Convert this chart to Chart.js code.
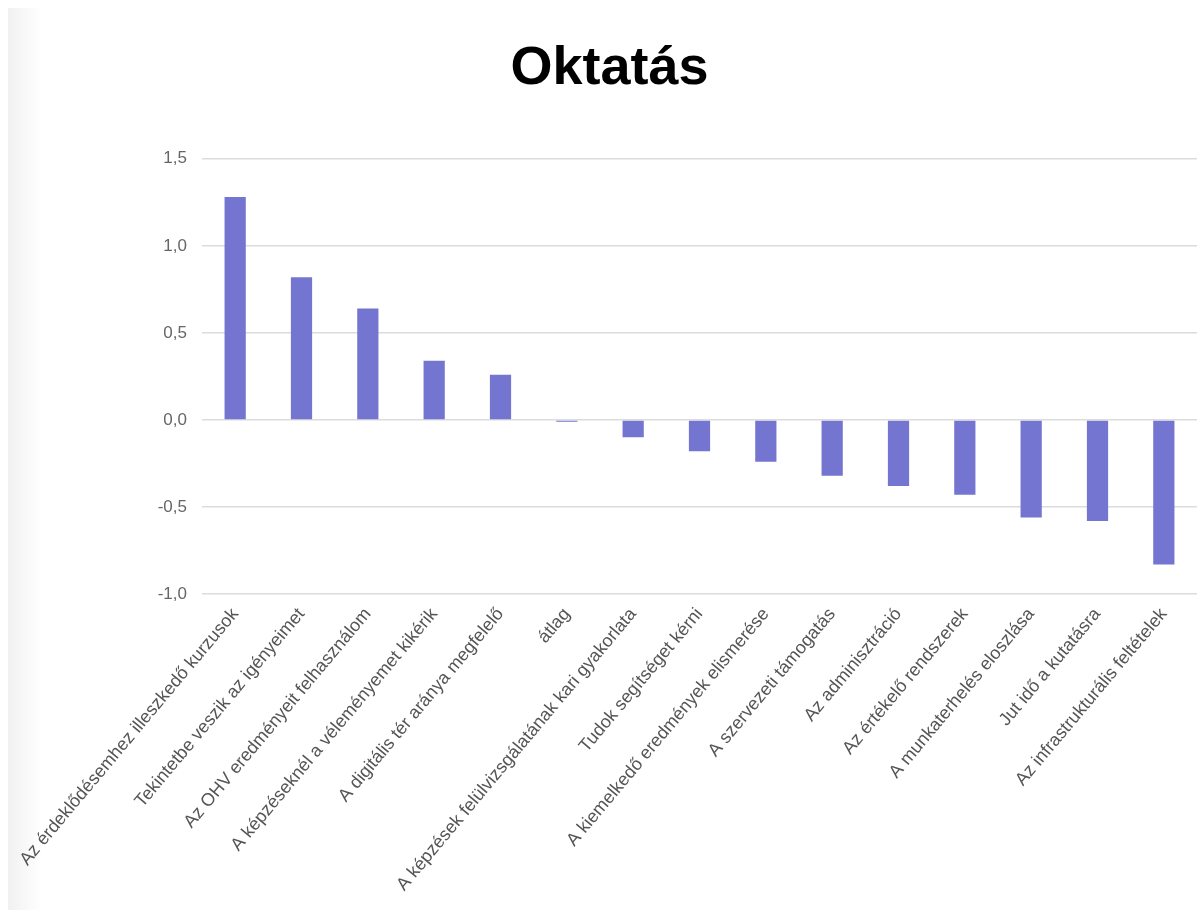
<!DOCTYPE html>
<html lang="hu">
<head>
<meta charset="utf-8">
<title>Oktatás</title>
<script src="https://cdn.jsdelivr.net/npm/chart.js@4/dist/chart.umd.min.js"></script>
<style>
    html, body { margin: 0; padding: 0; background: #fff; }
    #wrap { position: relative; width: 1203px; height: 910px; }
    #edge {
        position: absolute; left: 8px; top: 8px; width: 34px; bottom: 0;
        background: linear-gradient(to right, #f1f1f1, #fbfbfb 70%, #fff);
    }
    canvas { position: absolute; left: 0; top: 0; }
</style>
</head>
<body>
<div id="wrap">
    <div id="edge"></div>
    <canvas id="chart" width="1203" height="910"></canvas>
</div>
<script>
const labels = [
    "Az érdeklődésemhez illeszkedő kurzusok",
    "Tekintetbe veszik az igényeimet",
    "Az OHV eredményeit felhasználom",
    "A képzéseknél a véleményemet kikérik",
    "A digitális tér aránya megfelelő",
    "átlag",
    "A képzések felülvizsgálatának kari gyakorlata",
    "Tudok segítséget kérni",
    "A kiemelkedő eredmények elismerése",
    "A szervezeti támogatás",
    "Az adminisztráció",
    "Az értékelő rendszerek",
    "A munkaterhelés eloszlása",
    "Jut idő a kutatásra",
    "Az infrastrukturális feltételek"
];

const values = [1.28, 0.82, 0.64, 0.34, 0.26, -0.01, -0.10, -0.18, -0.24, -0.32, -0.38, -0.43, -0.56, -0.58, -0.83];

const yTickValues = [-1.0, -0.5, 0.0, 0.5, 1.0, 1.5];
const yTickLabels = ["-1,0", "-0,5", "0,0", "0,5", "1,0", "1,5"];

const FONT = "'Liberation Sans', Arial, sans-serif";

new Chart(document.getElementById("chart"), {
    type: "bar",
    data: {
        labels: labels,
        datasets: [{
            data: values,
            backgroundColor: "rgb(116, 117, 208)",
            borderWidth: 0,
            barPercentage: 0.32,
            categoryPercentage: 1.0
        }]
    },
    options: {
        responsive: false,
        animation: false,
        layout: { padding: { left: 22, right: 6, top: 0, bottom: 0 } },
        plugins: {
            legend: { display: false },
            tooltip: { enabled: false },
            title: {
                display: true,
                text: "Oktatás",
                color: "#000",
                font: { family: FONT, size: 54, weight: "bold", lineHeight: 1.2 },
                padding: { top: 37, bottom: 57 }
            }
        },
        scales: {
            x: {
                grid: { display: false, drawTicks: false },
                border: { display: false },
                ticks: {
                    color: "#555",
                    font: { family: FONT, size: 18 },
                    maxRotation: 50,
                    minRotation: 50,
                    autoSkip: false,
                    padding: 10
                },
                afterFit(scale) {
                    scale.height = 316;
                    scale.paddingLeft = 0;
                    scale.paddingRight = 0;
                }
            },
            y: {
                min: -1.0,
                max: 1.5,
                afterBuildTicks(scale) {
                    scale.ticks = yTickValues.map(v => ({ value: v }));
                },
                grid: { color: "#dcdcdc", lineWidth: 1.5, drawTicks: false },
                border: { display: false },
                ticks: {
                    color: "#666",
                    font: { family: FONT, size: 17 },
                    padding: 15,
                    callback: (value) => yTickLabels[yTickValues.indexOf(value)]
                },
                afterFit(scale) {
                    scale.width = 180;
                }
            }
        }
    }
});
</script>
</body>
</html>
